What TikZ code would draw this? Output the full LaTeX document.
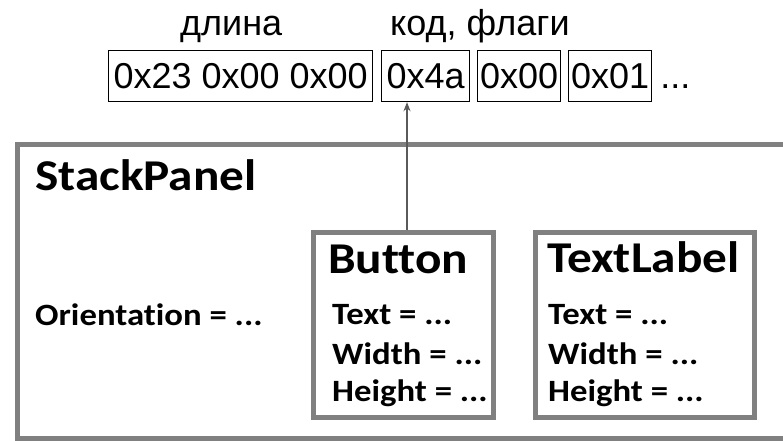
\documentclass[tikz,border=0pt]{standalone}
\usepackage{fontspec}
\usetikzlibrary{arrows.meta}
\newfontfamily\bytefont{Liberation Sans}
\newfontfamily\uifont[FakeStretch=1.12, Ligatures=NoCommon]{Carlito}
\definecolor{framegray}{HTML}{808080}
\definecolor{linkgray}{HTML}{5A5A5A}

\begin{document}
\begin{tikzpicture}[x=1pt, y=-1pt,
    byte/.style={draw, line width=1.2pt, inner sep=0pt, minimum height=51pt, anchor=north west,
      font=\bytefont\fontsize{36}{40}\selectfont},
    field/.style={anchor=base west, inner sep=0pt, font=\bytefont\fontsize{36}{40}\selectfont},
    frame/.style={draw=framegray, line width=5pt, inner sep=0pt, anchor=north west},
    heading/.style={anchor=base west, inner sep=0pt, font=\uifont\bfseries\fontsize{44}{48}\selectfont},
    prop/.style={anchor=base west, inner sep=0pt, font=\uifont\bfseries\fontsize{31}{36}\selectfont},
    link/.style={draw=linkgray, line width=1.3pt, -{Stealth[length=9pt, width=7pt]}}]
  \useasboundingbox (0,0) rectangle (783,440);
  \clip (0,0) rectangle (783,440);

  % message bytes
  \node[byte, minimum width=264pt] (len) at (108,50) {0x23 0x00 0x00};
  \node[byte, minimum width=88pt] (code) at (381,50) {0x4a};
  \node[byte, minimum width=83pt] (flag1) at (477,50) {0x00};
  \node[byte, minimum width=83pt] (flag2) at (568,50) {0x01};
  \node[field] (more) at ([xshift=8pt]flag2.base east) {...};
  \node[field] (lenlbl) at (180,35) {длина};
  \node[field] (codelbl) at (390,35) {код, флаги};

  % panels
  \node[frame, minimum width=790pt, minimum height=294pt] (stack) at (15,142) {};
  \node[frame, minimum width=180pt, minimum height=185pt] (button) at (311,230) {};
  \node[frame, minimum width=219pt, minimum height=185pt] (label) at (533,230) {};

  \node[heading] (stacktitle) at (35,190) {StackPanel};
  \node[prop] (orient) at (35,325) {Orientation = ...};

  \node[heading] (buttontitle) at (328,273) {Button};
  \node[prop] (btext) at (332,324) {Text = ...};
  \node[prop] (bwidth) at (332,364) {Width = ...};
  \node[prop] (bheight) at (332,401) {Height = ...};

  \node[heading] (labeltitle) at (547,272) {TextLabel};
  \node[prop] (ltext) at (548,324) {Text = ...};
  \node[prop] (lwidth) at (548,364) {Width = ...};
  \node[prop] (lheight) at (548,401) {Height = ...};

  % code byte of the button
  \draw[link] ([xshift=3.5pt]button.north) -- ([xshift=3.5pt]button.north |- code.south);
\end{tikzpicture}
\end{document}
